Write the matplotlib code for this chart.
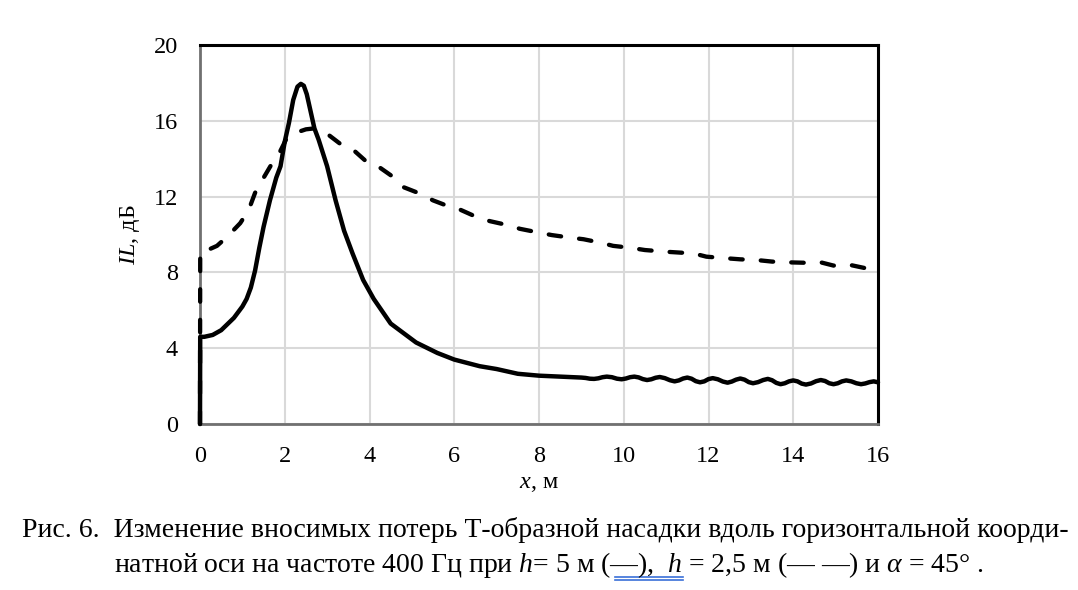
import numpy as np
import matplotlib.pyplot as plt
from matplotlib.lines import Line2D

plt.rcParams['font.family'] = ['Liberation Serif', 'DejaVu Serif']
plt.rcParams['mathtext.fontset'] = 'custom'
plt.rcParams['mathtext.rm'] = 'Liberation Serif'
plt.rcParams['mathtext.it'] = 'Liberation Serif:italic'

# h = 5 m (solid)
x_h5 = [0, 0.005, 0.1, 0.3, 0.5, 0.8, 1.0, 1.1, 1.2, 1.3, 1.4, 1.5, 1.65, 1.8, 1.9,
        2.0, 2.1, 2.2, 2.3, 2.38, 2.45, 2.52, 2.6, 2.7, 2.8, 3.0, 3.2, 3.4, 3.6,
        3.85, 4.1, 4.5, 4.8, 5.1, 5.6, 6.0, 6.6, 7.0, 7.5, 8.0, 8.5,
        9.0, 9.1, 9.2, 9.3, 9.4, 9.5, 9.6, 9.72, 9.84, 9.95, 10.05, 10.15,
        10.25, 10.35, 10.45, 10.55, 10.65, 10.75, 10.85, 10.97, 11.09, 11.2,
        11.3, 11.4, 11.5, 11.6, 11.7, 11.8, 11.9, 12.0, 12.1, 12.22, 12.34,
        12.45, 12.55, 12.65, 12.75, 12.85, 12.95, 13.05, 13.17, 13.29, 13.4,
        13.5, 13.6, 13.7, 13.8, 13.9, 14.0, 14.1, 14.2, 14.3, 14.42, 14.54,
        14.65, 14.75, 14.85, 14.95, 15.05, 15.15, 15.25, 15.37, 15.49, 15.6,
        15.7, 15.8, 15.9, 16.0]
y_h5 = [0, 4.6, 4.6, 4.7, 4.95, 5.6, 6.2, 6.6, 7.2, 8.1, 9.3, 10.4, 11.8, 13.0, 13.6,
        14.9, 15.9, 17.1, 17.8, 17.95, 17.85, 17.4, 16.6, 15.6, 15.0, 13.6, 11.8,
        10.2, 9.0, 7.6, 6.6, 5.3, 4.8, 4.3, 3.75, 3.4, 3.05, 2.9, 2.65, 2.55, 2.5,
        2.45, 2.43, 2.39, 2.38, 2.41, 2.47, 2.5, 2.47, 2.39, 2.36, 2.40, 2.47,
        2.5, 2.46, 2.37, 2.32, 2.36, 2.44, 2.48, 2.42, 2.31, 2.25,
        2.3, 2.4, 2.45, 2.39, 2.26, 2.2, 2.25, 2.37, 2.42, 2.36, 2.24,
        2.18, 2.24, 2.34, 2.4, 2.34, 2.21, 2.15, 2.21, 2.32, 2.38,
        2.31, 2.17, 2.1, 2.15, 2.25, 2.3, 2.25, 2.13, 2.08, 2.14, 2.26,
        2.32, 2.27, 2.15, 2.1, 2.15, 2.25, 2.3, 2.25, 2.15, 2.1,
        2.14, 2.21, 2.25, 2.2]

# h = 2.5 m (dashed)
x_h25 = [0, 0.005, 0.2, 0.4, 0.65, 0.95, 1.15, 1.3, 1.45, 1.7, 1.85, 2.05, 2.3,
         2.5, 2.7, 2.95, 3.3, 3.6, 3.95, 4.2, 4.55, 4.8, 5.2, 5.5, 5.85, 6.15,
         6.6, 6.85, 7.25, 7.55, 8.0, 8.3, 8.75, 9.05, 9.45, 9.75, 10.15, 10.5,
         11.0, 11.65, 11.95, 12.45, 12.75, 13.15, 13.5, 13.9, 14.25, 14.65,
         14.95, 15.35, 15.75]
y_h25 = [0, 9.1, 9.2, 9.4, 9.9, 10.6, 11.3, 12.2, 12.8, 13.75, 14.2, 15.1, 15.4,
         15.55, 15.6, 15.4, 14.8, 14.5, 13.8, 13.6, 13.05, 12.5, 12.15, 11.8,
         11.5, 11.3, 10.85, 10.7, 10.5, 10.3, 10.1, 9.97, 9.83, 9.75, 9.57, 9.4,
         9.3, 9.18, 9.09, 9.0, 8.83, 8.74, 8.69, 8.65, 8.57, 8.53, 8.51, 8.53,
         8.36, 8.39, 8.2]

x_ticks = [0, 2, 4, 6, 8, 10, 12, 14, 16]
y_ticks = [0, 4, 8, 12, 16, 20]

fig = plt.figure(figsize=(10.78, 5.9), dpi=100)
ax = fig.add_axes([200/1078, 1 - 424/590, 678/1078, 379/590])

ax.plot(x_h5, y_h5, color='black', lw=3.2, solid_joinstyle='round',
        solid_capstyle='round', clip_on=False, zorder=3)
ax.plot(x_h25, y_h25, color='black', lw=3.1, dashes=(2.9, 4.2),
        dash_capstyle='round', dash_joinstyle='round', clip_on=False, zorder=3)

ax.set_xlim(0, 16)
ax.set_ylim(0, 20)
ax.set_xticks(x_ticks)
ax.set_yticks(y_ticks)
ax.tick_params(length=0, labelsize=17.5)
ax.tick_params(axis='x', pad=16)
ax.tick_params(axis='y', pad=16)
ax.grid(True, color='#d9d9d9', lw=1.5)
ax.set_axisbelow(True)

for s in ['top', 'right']:
    ax.spines[s].set_color('black')
    ax.spines[s].set_linewidth(2.2)
for s in ['left', 'bottom']:
    ax.spines[s].set_color('#707070')
    ax.spines[s].set_linewidth(2.0)

ax.set_xlabel(r'$x$, м', fontsize=17.5, labelpad=4)
ax.set_ylabel(r'$IL$, дБ', fontsize=17.5, labelpad=8)

fig.text(545/1078, 1 - 530/590,
         'Рис. 6.  Изменение вносимых потерь Т-образной насадки вдоль горизонтальной коорди-',
         ha='center', va='center', fontsize=20)
fig.text(549/1078, 1 - 565/590,
         r'натной оси на частоте 400 Гц при $h$= 5 м (—),  $h$ = 2,5 м (— —) и $\alpha$ = 45° .',
         ha='center', va='center', fontsize=20)

# spell-check underline from the source document
for yy in [577, 580]:
    fig.add_artist(Line2D([615/1078, 683/1078], [1 - yy/590, 1 - yy/590],
                          color='#3a6fd8', lw=1.2))

fig.savefig('out.png', dpi=100)
